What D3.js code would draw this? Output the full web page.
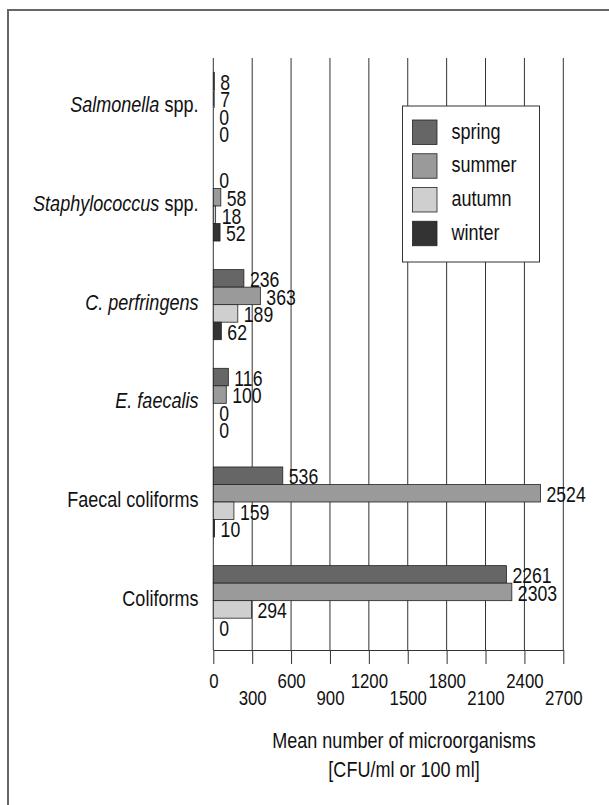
<!DOCTYPE html>
<html>
<head>
<meta charset="utf-8">
<script src="https://cdn.jsdelivr.net/npm/d3@7"></script>
<style>
  body { margin: 0; background: #fff; }
  text { font-family: "Liberation Sans", Arial, sans-serif; fill: #111; }
</style>
</head>
<body>
<div id="chart"></div>
<script>
// categories, top to bottom
const categories = ["Salmonella", "Staphylococcus", "C. perfringens", "E. faecalis", "Faecal coliforms", "Coliforms"];
// label parts: [italic part, plain part]
const catLabels = [
    ["Salmonella", " spp."],
    ["Staphylococcus", " spp."],
    ["C. perfringens", ""],
    ["E. faecalis", ""],
    ["", "Faecal coliforms"],
    ["", "Coliforms"]
];
const seasons = ["spring", "summer", "autumn", "winter"];
const spring = [8, 0, 236, 116, 536, 2261];
const summer = [7, 58, 363, 100, 2524, 2303];
const autumn = [0, 18, 189, 0, 159, 294];
const winter = [0, 52, 62, 0, 10, 0];
const seasonColors = ["#666666", "#9a9a9a", "#cfcfcf", "#333333"];
const tickValues = [0, 300, 600, 900, 1200, 1500, 1800, 2100, 2400, 2700];

// the original uses a condensed face; squeeze the text horizontally
const SX = 0.82;
function squeeze(sel) {
    sel.each(function() {
        const t = d3.select(this);
        const tx = +t.attr("x") || 0, ty = +t.attr("y") || 0;
        t.attr("x", null).attr("y", null)
            .attr("transform", `translate(${tx},${ty}) scale(${SX},1)`);
    });
}

function chart() {
    const width = 609, height = 805;
    const series = [spring, summer, autumn, winter];

    const svg = d3.select("#chart").append("svg")
        .attr("width", width)
        .attr("height", height);

    // outer frame (only top and left edges are visible)
    svg.append("path")
        .attr("d", "M8,805 L8,10 L609,10")
        .attr("fill", "none")
        .attr("stroke", "#666")
        .attr("stroke-width", 2);

    const x = d3.scaleLinear().domain([0, 2700]).range([213.3, 563.3]);
    const y = d3.scaleBand()
        .domain(categories)
        .range([58, 650])
        .paddingInner(0.29)
        .paddingOuter(0.145);
    const yIn = d3.scaleBand().domain(seasons).range([0, y.bandwidth()]);

    // grid lines
    svg.append("g").selectAll("line")
        .data(tickValues)
        .enter().append("line")
        .attr("x1", d => x(d)).attr("x2", d => x(d))
        .attr("y1", 58).attr("y2", 650)
        .attr("stroke", "#333")
        .attr("stroke-width", 1);

    // x axis
    const axis = svg.append("g")
        .attr("transform", "translate(0,650)")
        .call(d3.axisBottom(x).tickValues(tickValues).tickSize(14).tickSizeOuter(0).tickFormat(d3.format("d")));
    axis.attr("font-family", null).attr("font-size", null);
    axis.select(".domain").attr("stroke", "#333");
    axis.selectAll(".tick line").attr("stroke", "#333");
    axis.selectAll(".tick text")
        .style("font-size", "20.5px")
        .attr("y", (d, i) => i % 2 === 0 ? 38 : 55)
        .attr("dy", 0)
        .call(squeeze);

    // bars
    const rows = categories.map((c, ci) => seasons.map((s, si) => ({cat: c, season: s, si, val: series[si][ci]})));

    const group = svg.append("g").selectAll("g.cat")
        .data(rows)
        .enter().append("g")
        .attr("class", "cat")
        .attr("transform", d => `translate(0,${y(d[0].cat)})`);

    group.selectAll("rect")
        .data(d => d)
        .enter().append("rect")
        .attr("x", x(0))
        .attr("y", d => yIn(d.season))
        .attr("width", d => x(d.val) - x(0))
        .attr("height", yIn.bandwidth())
        .attr("fill", d => seasonColors[d.si])
        .attr("stroke", d => d.val > 0 ? "#222" : "none")
        .attr("stroke-width", 0.8);

    group.selectAll("text.val")
        .data(d => d)
        .enter().append("text")
        .attr("class", "val")
        .attr("x", d => x(d.val) + 6)
        .attr("y", d => yIn(d.season) + yIn.bandwidth())
        .style("font-size", "21.5px")
        .text(d => d.val)
        .call(squeeze);

    // category labels
    const cl = svg.append("g").selectAll("text.cat")
        .data(categories)
        .enter().append("text")
        .attr("class", "cat")
        .attr("x", 198.5)
        .attr("y", d => y(d) + y.bandwidth() / 2 + 5)
        .attr("text-anchor", "end")
        .style("font-size", "22px");
    cl.each(function(d, i) {
        const t = d3.select(this);
        if (catLabels[i][0]) t.append("tspan").style("font-style", "italic").text(catLabels[i][0]);
        if (catLabels[i][1]) t.append("tspan").text(catLabels[i][1]);
    });
    cl.call(squeeze);

    // legend
    const lg = svg.append("g").attr("transform", "translate(402.5,106)");
    lg.append("rect")
        .attr("width", 137).attr("height", 156)
        .attr("fill", "#fff").attr("stroke", "#333").attr("stroke-width", 1);
    const ly = d3.scaleBand().domain(seasons).range([14, 149]);
    const item = lg.selectAll("g.item")
        .data(seasons)
        .enter().append("g")
        .attr("transform", d => `translate(10,${ly(d)})`);
    item.append("rect")
        .attr("width", 24.5).attr("height", 24.5)
        .attr("fill", (d, i) => seasonColors[i])
        .attr("stroke", "#222").attr("stroke-width", 0.8);
    item.append("text")
        .attr("x", 39).attr("y", 18.5)
        .style("font-size", "22px")
        .text(d => d)
        .call(squeeze);

    // axis title
    const title = svg.append("text")
        .attr("transform", `translate(404,748) scale(${SX},1)`)
        .attr("text-anchor", "middle")
        .style("font-size", "22px");
    title.append("tspan").attr("x", 0).text("Mean number of microorganisms");
    title.append("tspan").attr("x", 0).attr("dy", 29).text("[CFU/ml or 100 ml]");
}

chart();
</script>
</body>
</html>
